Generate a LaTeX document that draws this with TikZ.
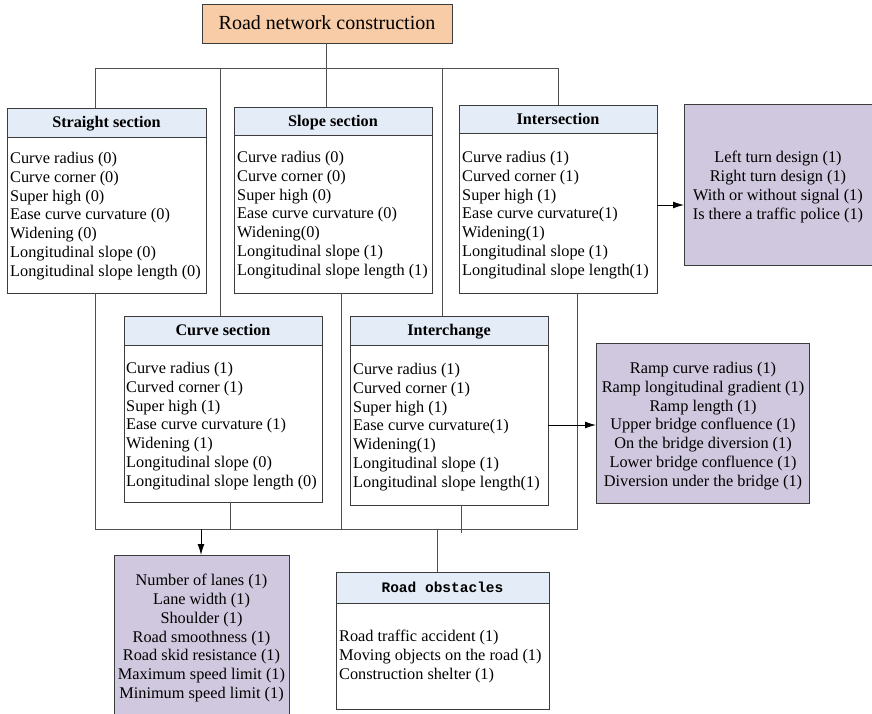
\documentclass[tikz,border=0pt]{standalone}
\usepackage{fontspec}
\setmainfont{Liberation Serif}
\newfontfamily\monob{Liberation Mono}
\usetikzlibrary{arrows.meta}
\definecolor{peach}{RGB}{248,204,166}
\definecolor{hdrblue}{RGB}{228,236,247}
\definecolor{lilac}{RGB}{208,200,222}
\definecolor{edge}{RGB}{60,60,60}
\definecolor{wire}{RGB}{80,80,80}
\tikzset{
  box/.style={draw=edge, line width=0.9pt, fill=white, inner sep=0pt, outer sep=0pt, anchor=north west},
  hdr/.style={draw=edge, line width=0.9pt, fill=hdrblue, inner sep=0pt, outer sep=0pt, anchor=north west, text height=13pt, text depth=3pt, font=\fontsize{16.2}{19}\selectfont\bfseries},
  items/.style={inner sep=0pt, anchor=west, align=left, font=\fontsize{16.3}{18.8}\selectfont},
  citems/.style={inner sep=0pt, align=center, font=\fontsize{16.3}{18.8}\selectfont},
  pbox/.style={draw=edge, line width=0.9pt, fill=lilac, inner sep=0pt, outer sep=0pt, anchor=north west},
  wireline/.style={draw=wire, line width=0.9pt},
  arrowline/.style={draw=black, line width=1pt, -{Latex[length=11pt,width=7pt]}}
}
\begin{document}
\begin{tikzpicture}[x=1pt,y=-1pt]
\useasboundingbox (0,0) rectangle (872,713);

% top node
\node[draw=edge, line width=0.9pt, fill=peach, inner sep=0pt, outer sep=0pt, anchor=north west,
      minimum width=250pt, minimum height=39pt, text height=15pt, text depth=4pt, font=\fontsize{20}{24}\selectfont] (rn) at (202,4) {Road network construction};

% Straight section
\node[box, minimum width=199pt, minimum height=185pt] (ss) at (7,108) {};
\node[hdr, minimum width=199pt, minimum height=29pt] (ssh) at (7,108) {Straight section};
\node[items] (sst) at (10,216) {Curve radius (0)\\Curve corner (0)\\Super high (0)\\Ease curve curvature (0)\\Widening (0)\\Longitudinal slope (0)\\Longitudinal slope length (0)};

% Slope section
\node[box, minimum width=198pt, minimum height=186pt] (sl) at (234,107) {};
\node[hdr, minimum width=198pt, minimum height=28pt] (slh) at (234,107) {Slope section};
\node[items] (slt) at (237,215) {Curve radius (0)\\Curve corner (0)\\Super high (0)\\Ease curve curvature (0)\\Widening(0)\\Longitudinal slope (1)\\Longitudinal slope length (1)};

% Intersection
\node[box, minimum width=198pt, minimum height=188pt] (is) at (459,105) {};
\node[hdr, minimum width=198pt, minimum height=28pt] (ish) at (459,105) {Intersection};
\node[items] (ist) at (462,215) {Curve radius (1)\\Curved corner (1)\\Super high (1)\\Ease curve curvature(1)\\Widening(1)\\Longitudinal slope (1)\\Longitudinal slope length(1)};

% Curve section
\node[box, minimum width=198pt, minimum height=186pt] (cs) at (124,316) {};
\node[hdr, minimum width=198pt, minimum height=29pt] (csh) at (124,316) {Curve section};
\node[items] (cst) at (126,426) {Curve radius (1)\\Curved corner (1)\\Super high (1)\\Ease curve curvature (1)\\Widening (1)\\Longitudinal slope (0)\\Longitudinal slope length (0)};

% Interchange
\node[box, minimum width=198pt, minimum height=189pt] (ic) at (350,316) {};
\node[hdr, minimum width=198pt, minimum height=29pt] (ich) at (350,316) {Interchange};
\node[items] (ict) at (353,427) {Curve radius (1)\\Curved corner (1)\\Super high (1)\\Ease curve curvature(1)\\Widening(1)\\Longitudinal slope (1)\\Longitudinal slope length(1)};

% Intersection details
\node[pbox, minimum width=188pt, minimum height=161pt] (lt) at (684,104) {};
\node[citems] (ltt) at (778,187) {Left turn design (1)\\Right turn design (1)\\With or without signal (1)\\Is there a traffic police (1)};

% Ramp details
\node[pbox, minimum width=213pt, minimum height=160pt] (rp) at (596,343) {};
\node[citems] (rpt) at (703,426) {Ramp curve radius (1)\\Ramp longitudinal gradient (1)\\Ramp length (1)\\Upper bridge confluence (1)\\On the bridge diversion (1)\\Lower bridge confluence (1)\\Diversion under the bridge (1)};

% Lanes box
\node[pbox, minimum width=175pt, minimum height=162pt] (nl) at (114,555) {};
\node[citems] (nlt) at (201.5,638) {Number of lanes (1)\\Lane width (1)\\Shoulder (1)\\Road smoothness (1)\\Road skid resistance (1)\\Maximum speed limit (1)\\Minimum speed limit (1)};

% Road obstacles
\node[box, minimum width=213pt, minimum height=137pt] (ro) at (336,572) {};
\node[hdr, minimum width=213pt, minimum height=31pt, text height=11pt, text depth=2pt, font=\fontsize{14.5}{17}\selectfont\monob\bfseries] (roh) at (336,572) {Road obstacles};
\node[items] (rot) at (339,656.5) {Road traffic accident (1)\\Moving objects on the road (1)\\Construction shelter (1)};

% top connectors
\coordinate (b1) at (95,68);
\coordinate (b2) at (220,68);
\coordinate (b3) at (442,68);
\coordinate (b4) at (558,68);
\draw[wireline] (b1) -- (b4);
\draw[wireline] (rn.south -| 326,0) -- (sl.north -| 326,0);
\draw[wireline] (b1) -- (b1 |- ssh.north);
\draw[wireline] (b2) -- (b2 |- csh.north);
\draw[wireline] (b3) -- (b3 |- ich.north);
\draw[wireline] (b4) -- (b4 |- ish.north);

% bottom connectors
\coordinate (c1) at (95,529);
\coordinate (c2) at (230,529);
\coordinate (c3) at (341,529);
\coordinate (c4) at (461,533);
\coordinate (c5) at (577,529);
\coordinate (a1) at (201,529);
\coordinate (a2) at (437,529);
\draw[wireline] (c1 |- ss.south) -- (c1) -- (c5) -- (c5 |- is.south);
\draw[wireline] (c2 |- cs.south) -- (c2);
\draw[wireline] (c3 |- sl.south) -- (c3);
\draw[wireline] (c4 |- ic.south) -- (c4);
\draw[wireline] (a2) -- (a2 |- roh.north);
\draw[arrowline] (a1) -- (a1 |- nl.north);

% side arrows
\draw[arrowline] (is.east |- 0,205) -- (lt.west |- 0,205);
\draw[arrowline] (ic.east |- 0,425) -- (rp.west |- 0,425);
\end{tikzpicture}
\end{document}
